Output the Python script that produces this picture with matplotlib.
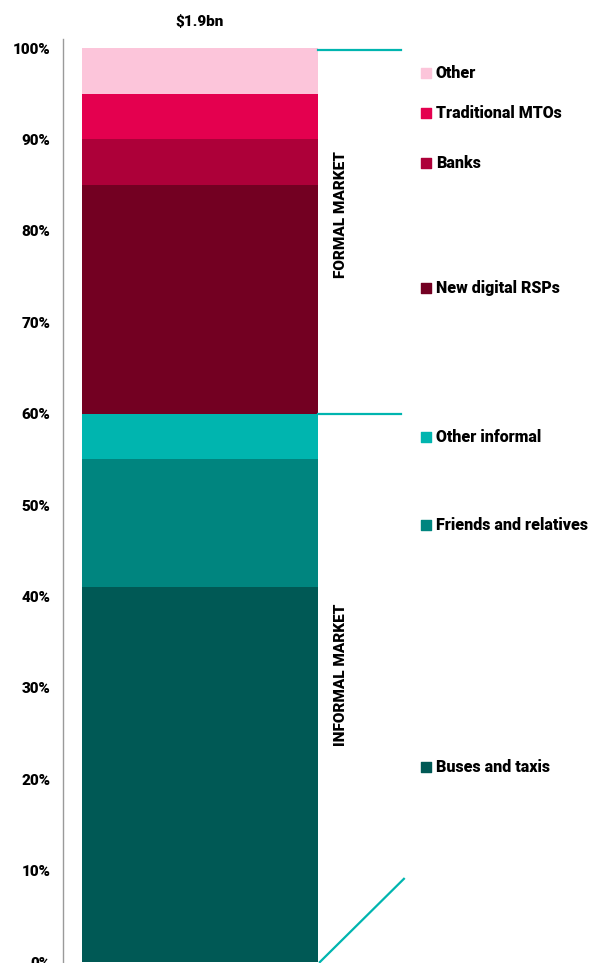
import matplotlib.pyplot as plt
import numpy as np

plt.rcParams['font.family'] = ['Roboto', 'DejaVu Sans']

# segments bottom to top
categories = ['Buses and taxis', 'Friends and relatives', 'Other informal',
              'New digital RSPs', 'Banks', 'Traditional MTOs', 'Other']
shares = [41, 14, 5, 25, 5, 5, 5]
colors = ['#005955', '#00857F', '#00B5AF', '#730022', '#AD0039', '#E4004F', '#FCC5DA']
total_label = '$1.9bn'
yticks = [0, 10, 20, 30, 40, 50, 60, 70, 80, 90, 100]

# where the legend rows sit (layout)
label_y = [21.3, 47.8, 57.4, 73.7, 87.4, 92.9, 97.3]

teal = '#00B5AF'
w = 'heavy'

fig = plt.figure(figsize=(5.94, 9.63), dpi=100)
ax = fig.add_axes([63/594, 1/963, 531/594, 914/963])
ax.set_xlim(0, 1)
ax.set_ylim(0, 100)

bx, bw = 0.0358, 0.444
bottom = 0
for cat, val, col, ly in zip(categories, shares, colors, label_y):
    ax.bar(bx, val, bw, bottom=bottom, color=col, align='edge', linewidth=0)
    ax.scatter([0.683], [ly], marker='s', s=60, color=col, clip_on=False, zorder=3)
    ax.text(0.702, ly, cat, va='center', ha='left', fontsize=11.5,
            fontweight=w)
    bottom += val

ax.text(bx + bw / 2, 102.8, total_label, ha='center', va='center',
        fontsize=11, fontweight=w, clip_on=False)

# market brackets
x0, x1 = bx + bw, 0.637
ax.plot([x0, x1], [99.8, 99.8], color=teal, lw=1.6, clip_on=False)
ax.plot([x0, x1], [60, 60], color=teal, lw=1.6, clip_on=False)
ax.plot([x0 + 0.004, 0.642], [0, 9.1], color=teal, lw=1.6, clip_on=False)

ax.text(0.524, 81.8, 'FORMAL MARKET', rotation=90, ha='center', va='center',
        fontsize=11, fontweight=w)
ax.text(0.524, 31.4, 'INFORMAL MARKET', rotation=90, ha='center', va='center',
        fontsize=11, fontweight=w)

ax.set_yticks(yticks)
ax.set_yticklabels(['%d%%' % t for t in yticks], fontsize=11, fontweight=w)
ax.tick_params(axis='y', length=0, pad=9)
ax.set_xticks([])
for s in ['top', 'right', 'bottom']:
    ax.spines[s].set_visible(False)
ax.spines['left'].set_color('#9a9a9a')
ax.spines['left'].set_linewidth(1)
ax.spines['left'].set_bounds(0, 101)

fig.savefig('out.png', dpi=100)
